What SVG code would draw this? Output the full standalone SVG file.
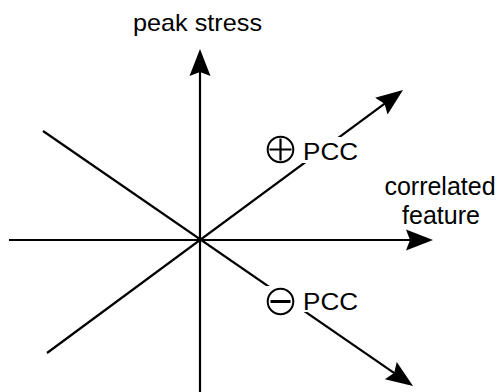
<svg xmlns="http://www.w3.org/2000/svg" width="501" height="392" viewBox="0 0 501 392">
  <style>
    .ax { stroke: #000; stroke-width: 2.2; fill: none; }
    .lbl { font-family: "Liberation Sans", Arial, sans-serif; fill: #000; }
    .bg { fill: #fff; stroke: none; }
    .sym { stroke: #000; fill: none; }
  </style>
  <defs>
    <marker id="ah" markerUnits="userSpaceOnUse" markerWidth="32" markerHeight="26" viewBox="0 -13 32 26" refX="21" refY="0" orient="auto">
      <path d="M27,0 L0,-10.5 L4,0 L0,10.5 Z" fill="#000"/>
    </marker>
  </defs>
  <rect width="501" height="392" fill="#fff"/>
  <g id="connectors">
    <path class="ax" d="M200,392 L200,55" marker-end="url(#ah)"/>
    <path class="ax" d="M9,240 L427,240" marker-end="url(#ah)"/>
    <path class="ax" d="M47,353 L398.2,93.6" marker-end="url(#ah)"/>
    <path class="ax" d="M43,131 L408.1,382.6" marker-end="url(#ah)"/>
  </g>
  <g id="y-axis-label">
    <text class="lbl" x="133" y="31" font-size="24" textLength="129" lengthAdjust="spacingAndGlyphs">peak stress</text>
  </g>
  <g id="x-axis-label">
    <text class="lbl" x="440" y="195" font-size="25" text-anchor="middle">correlated</text>
    <text class="lbl" x="441" y="224" font-size="25" text-anchor="middle">feature</text>
  </g>
  <g id="positive-pcc">
    <rect class="bg" x="222" y="137" width="161" height="26"/>
    <circle class="sym" cx="280.5" cy="149.5" r="12.8" stroke-width="2"/>
    <path class="sym" d="M269.5,149.5 H291.5 M280.5,138.5 V160.5" stroke-width="2.2"/>
    <text class="lbl" x="303" y="160" font-size="24" textLength="55" lengthAdjust="spacingAndGlyphs">PCC</text>
  </g>
  <g id="negative-pcc">
    <rect class="bg" x="222" y="286" width="161" height="26"/>
    <circle class="sym" cx="280.5" cy="301.5" r="12.8" stroke-width="2"/>
    <path class="sym" d="M270.5,301.5 H290.5" stroke-width="3"/>
    <text class="lbl" x="303" y="310" font-size="24" textLength="55" lengthAdjust="spacingAndGlyphs">PCC</text>
  </g>
</svg>
